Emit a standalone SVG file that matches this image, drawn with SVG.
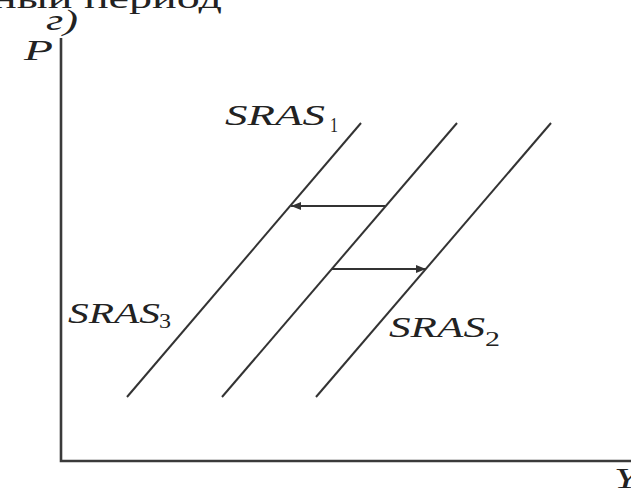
<svg xmlns="http://www.w3.org/2000/svg" width="631" height="491" viewBox="0 0 631 491">
<style>
.ax{stroke:#3a3a3a;stroke-width:2.6;fill:none}
.ln{stroke:#333;stroke-width:2;fill:none}
.ar{stroke:#333;stroke-width:2;fill:none}
.lbl{font-family:"Liberation Serif",serif;font-style:italic;fill:#222;font-size:30px}
.sub{font-family:"Liberation Serif",serif;fill:#222;font-size:20px}
.hd{font-family:"Liberation Serif",serif;fill:#222;font-size:30px}
</style>
<defs>
<marker id="ah" viewBox="0 0 10 8" refX="10" refY="4" markerWidth="10" markerHeight="8" markerUnits="userSpaceOnUse" orient="auto">
<path d="M0,0 L10,4 L0,8 Z" fill="#333"/>
</marker>
</defs>
<rect width="631" height="491" fill="#fff"/>
<g id="title">
<text class="hd" x="222" y="8" text-anchor="end" textLength="230" lengthAdjust="spacingAndGlyphs">ный период</text>
<text class="lbl" x="46" y="30" font-size="24" textLength="32" lengthAdjust="spacingAndGlyphs">г)</text>
</g>
<g id="axes">
<path class="ax" d="M61,38 V461 H631"/>
<text class="lbl" x="24" y="60" textLength="29" lengthAdjust="spacingAndGlyphs">P</text>
<text class="lbl" x="614" y="488" textLength="24" lengthAdjust="spacingAndGlyphs">Y</text>
</g>
<g id="sras1">
<line class="ln" x1="127" y1="397" x2="361" y2="123"/>
<text class="lbl" x="225" y="125" textLength="100" lengthAdjust="spacingAndGlyphs">SRAS</text>
<text class="sub" x="330" y="132" textLength="8" lengthAdjust="spacingAndGlyphs">1</text>
</g>
<g id="sras-mid">
<line class="ln" x1="222" y1="397" x2="457" y2="123"/>
</g>
<g id="sras2">
<line class="ln" x1="316" y1="397" x2="551" y2="123"/>
<text class="lbl" x="389" y="337" textLength="96" lengthAdjust="spacingAndGlyphs">SRAS</text>
<text class="sub" x="485" y="346" textLength="15" lengthAdjust="spacingAndGlyphs">2</text>
</g>
<g id="sras3">
<text class="lbl" x="68" y="323" textLength="92" lengthAdjust="spacingAndGlyphs">SRAS</text>
<text class="sub" x="159" y="328" textLength="12" lengthAdjust="spacingAndGlyphs">3</text>
</g>
<g id="connectors">
<line class="ar" x1="385" y1="206" x2="291" y2="206" marker-end="url(#ah)"/>
<line class="ar" x1="332" y1="269" x2="426" y2="269" marker-end="url(#ah)"/>
</g>
</svg>
